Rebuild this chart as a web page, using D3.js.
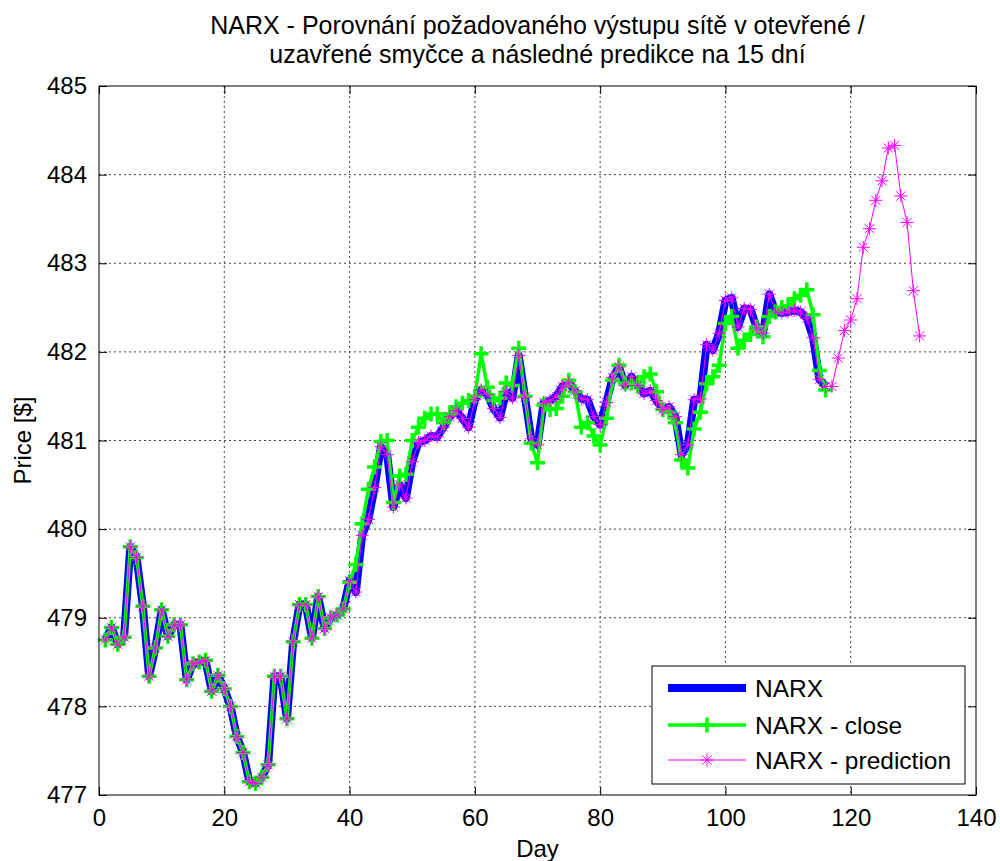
<!DOCTYPE html>
<html><head><meta charset="utf-8">
<script src="https://cdn.jsdelivr.net/npm/d3@7"></script>
<style>
body{margin:0;background:#fff;}
text{font-family:"Liberation Sans",Arial,Helvetica,sans-serif;fill:#000;}
</style></head>
<body><svg id="c" width="1000" height="861"></svg>
<script>
// ---- data ----
const narxValues = [478.75,478.89,478.70,478.78,479.80,479.68,479.13,478.34,478.66,479.09,
478.79,478.92,478.92,478.30,478.48,478.50,478.52,478.17,478.35,478.20,
478.00,477.66,477.48,477.15,477.13,477.20,477.34,478.34,478.34,477.86,
478.73,479.15,479.15,478.77,479.24,478.88,479.00,479.03,479.10,479.42,
479.29,479.93,480.11,480.47,480.93,480.84,480.25,480.50,480.35,480.76,
480.98,481.00,481.05,481.04,481.15,481.27,481.34,481.25,481.15,481.46,
481.57,481.52,481.36,481.26,481.55,481.48,481.96,481.49,481.02,480.95,
481.43,481.45,481.50,481.61,481.65,481.56,481.47,481.46,481.27,481.18,
481.43,481.71,481.83,481.62,481.72,481.62,481.53,481.56,481.45,481.35,
481.38,481.27,480.84,480.95,481.46,481.47,482.08,482.02,482.21,482.58,
482.61,482.28,482.49,482.48,482.27,482.21,482.65,482.45,482.44,482.45,
482.47,482.45,482.38,482.16,481.69,481.61];
const closeValues = [478.75,478.89,478.70,478.78,479.80,479.68,479.13,478.34,478.66,479.09,
478.79,478.92,478.92,478.30,478.48,478.50,478.52,478.17,478.35,478.20,
478.00,477.66,477.48,477.15,477.13,477.20,477.34,478.34,478.34,477.86,
478.73,479.15,479.15,478.77,479.24,478.88,479.00,479.03,479.10,479.40,
479.60,480.06,480.45,480.70,480.99,481.00,480.30,480.60,480.62,481.00,
481.15,481.25,481.30,481.30,481.20,481.30,481.38,481.42,481.45,481.50,
481.98,481.60,481.45,481.48,481.65,481.62,482.04,481.50,480.97,480.75,
481.40,481.35,481.36,481.50,481.68,481.55,481.15,481.20,481.05,480.95,
481.25,481.68,481.85,481.65,481.65,481.62,481.72,481.75,481.55,481.35,
481.32,481.20,480.78,480.69,481.13,481.32,481.64,481.72,481.85,482.32,
482.40,482.04,482.13,482.20,482.28,482.17,482.40,482.45,482.50,482.52,
482.60,482.64,482.70,482.42,481.79,481.57];
const forecastValues = [481.61,481.93,482.24,482.36,482.60,483.18,483.39,483.71,483.93,484.30,
484.33,483.76,483.46,482.69,482.18];
const xTicks = [0,20,40,60,80,100,120,140];
const yTicks = [477,478,479,480,481,482,483,484,485];
const titleLines = ["NARX - Porovnání požadovaného výstupu sítě v otevřené /",
                    "uzavřené smyčce a následné predikce na 15 dní"];
const legendLabels = ["NARX","NARX - close","NARX - prediction"];

// ---- chart ----
const svg = d3.select("#c");
const L=99, R=976, T=86, B=795;
const x = d3.scaleLinear().domain([0,140]).range([L,R]);
const y = d3.scaleLinear().domain([477,485]).range([B,T]);

const narx = narxValues.map((v,i)=>({d:i+1,v}));
const close = closeValues.map((v,i)=>({d:i+1,v}));
const pred = narxValues.concat(forecastValues).map((v,i)=>({d:i+1,v}));

svg.append("rect").attr("x",L).attr("y",T).attr("width",R-L).attr("height",B-T).attr("fill","#fff");

// grid
const grid = svg.append("g");
grid.selectAll(".gx").data(xTicks.slice(1,-1)).join("line")
  .attr("x1",d=>x(d)).attr("x2",d=>x(d)).attr("y1",T).attr("y2",B)
  .attr("stroke","#444").attr("stroke-width",1).attr("stroke-dasharray","2,3");
grid.selectAll(".gy").data(yTicks.slice(1,-1)).join("line")
  .attr("y1",d=>y(d)).attr("y2",d=>y(d)).attr("x1",L).attr("x2",R)
  .attr("stroke","#444").attr("stroke-width",1).attr("stroke-dasharray","2,3");

const line = d3.line().x(d=>x(d.d)).y(d=>y(d.v));
const plot = svg.append("g");

plot.append("path").datum(narx).attr("d",line).attr("fill","none")
  .attr("stroke","#0000ff").attr("stroke-width",8).attr("stroke-linejoin","round");
plot.append("path").datum(close).attr("d",line).attr("fill","none")
  .attr("stroke","#00ff00").attr("stroke-width",3.5);
const ps = 7.5;
plot.selectAll(".plus").data(close).join("path")
  .attr("d",d=>{const cx=x(d.d),cy=y(d.v);return `M${cx-ps},${cy}H${cx+ps}M${cx},${cy-ps}V${cy+ps}`;})
  .attr("stroke","#00ff00").attr("stroke-width",3.5).attr("fill","none");
plot.append("path").datum(pred).attr("d",line).attr("fill","none")
  .attr("stroke","#ff00ff").attr("stroke-width",1);
function star(cx,cy,s){const a=s*0.707;
  return `M${cx-s},${cy}H${cx+s}M${cx},${cy-s}V${cy+s}M${cx-a},${cy-a}L${cx+a},${cy+a}M${cx-a},${cy+a}L${cx+a},${cy-a}`;}
plot.selectAll(".star").data(pred).join("path")
  .attr("d",d=>star(x(d.d),y(d.v),6.5))
  .attr("stroke","#ff00ff").attr("stroke-width",1).attr("fill","none");

// axes box & ticks
const axb = d3.axisBottom(x).tickValues(xTicks).tickSize(-8).tickPadding(14);
const axl = d3.axisLeft(y).tickValues(yTicks).tickSize(-8).tickPadding(12);
const gx = svg.append("g").attr("transform",`translate(0,${B})`).call(axb);
const gy = svg.append("g").attr("transform",`translate(${L},0)`).call(axl);
const gx2 = svg.append("g").attr("transform",`translate(0,${T})`).call(d3.axisTop(x).tickValues(xTicks).tickSize(-8).tickFormat(""));
const gy2 = svg.append("g").attr("transform",`translate(${R},0)`).call(d3.axisRight(y).tickValues(yTicks).tickSize(-8).tickFormat(""));
[gx,gy,gx2,gy2].forEach(g=>{g.select(".domain").remove();g.selectAll("line").attr("stroke","#000");});
gx.selectAll("text").attr("font-size",24).attr("font-family","Liberation Sans, Arial, sans-serif");
gy.selectAll("text").attr("font-size",24).attr("font-family","Liberation Sans, Arial, sans-serif");
svg.append("rect").attr("x",L).attr("y",T).attr("width",R-L).attr("height",B-T)
  .attr("fill","none").attr("stroke","#000").attr("stroke-width",1);

// labels
svg.append("text").attr("x",(L+R)/2).attr("y",857).attr("text-anchor","middle").attr("font-size",24).text("Day");
svg.append("text").attr("transform",`translate(31,${(T+B)/2}) rotate(-90)`).attr("text-anchor","middle").attr("font-size",24).text("Price [$]");
svg.selectAll(".title").data(titleLines).join("text")
  .attr("x",(L+R)/2).attr("y",(d,i)=>34+i*29).attr("text-anchor","middle").attr("font-size",25).text(d=>d);

// legend
const lg = svg.append("g");
lg.append("rect").attr("x",652).attr("y",666).attr("width",313).attr("height",118)
  .attr("fill","#fff").attr("stroke","#000").attr("stroke-width",1);
const rows=[688,725,760];
lg.append("line").attr("x1",668).attr("x2",746).attr("y1",rows[0]).attr("y2",rows[0]).attr("stroke","#0000ff").attr("stroke-width",8);
lg.append("line").attr("x1",668).attr("x2",746).attr("y1",rows[1]).attr("y2",rows[1]).attr("stroke","#00ff00").attr("stroke-width",3.5);
lg.append("path").attr("d",`M${707-ps},${rows[1]}H${707+ps}M707,${rows[1]-ps}V${rows[1]+ps}`).attr("stroke","#00ff00").attr("stroke-width",3.5);
lg.append("line").attr("x1",668).attr("x2",746).attr("y1",rows[2]).attr("y2",rows[2]).attr("stroke","#ff00ff").attr("stroke-width",1);
lg.append("path").attr("d",star(707,rows[2],6.5)).attr("stroke","#ff00ff").attr("stroke-width",1).attr("fill","none");
lg.selectAll(".lt").data(legendLabels).join("text")
  .attr("x",755).attr("y",(d,i)=>rows[i]+9).attr("font-size",24.5).text(d=>d);
</script></body></html>
